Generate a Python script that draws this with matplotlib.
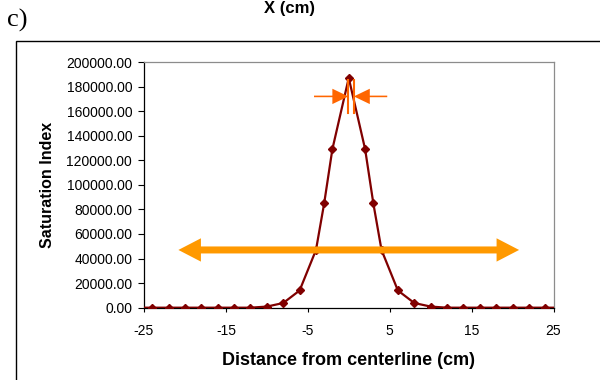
import matplotlib
matplotlib.use("Agg")
import matplotlib.pyplot as plt
from matplotlib.patches import Rectangle, FancyArrow, Polygon

plt.rcParams['font.family'] = ['Liberation Sans', 'DejaVu Sans']

# Data
distance = [-25, -24, -22, -20, -18, -16, -14, -12, -10, -8, -6, -4, -3, -2, 0,
            2, 3, 4, 6, 8, 10, 12, 14, 16, 18, 20, 22, 24, 25]
saturation = [0, 0, 0, 0, 0, 0, 0, 0, 900, 3800, 14000, 47000, 85000, 129000, 187000,
              129000, 85000, 47000, 14000, 3800, 900, 0, 0, 0, 0, 0, 0, 0, 0]
x_ticks = [-25, -15, -5, 5, 15, 25]
y_ticks = [0, 20000, 40000, 60000, 80000, 100000, 120000, 140000, 160000, 180000, 200000]

fig = plt.figure(figsize=(6.0, 3.8), dpi=100)
ax = fig.add_axes([0.24, 0.1903, 0.6825, 0.6465])

ax.plot(distance, saturation, color='#800000', lw=1.6, marker='D', markersize=3.6,
        markevery=slice(1, len(distance) - 1), zorder=3, clip_on=True)

ax.set_xlim(-25, 25)
ax.set_ylim(0, 200000)
ax.set_xticks(x_ticks)
ax.set_xticklabels([str(v) for v in x_ticks])
ax.set_yticks(y_ticks)
ax.set_yticklabels([f"{v:.2f}" for v in y_ticks])

ax.tick_params(axis='y', direction='out', length=4.5, width=0.8, pad=4, labelsize=10)
ax.tick_params(axis='x', direction='out', length=3, width=0.8, pad=9, labelsize=10)

for s in ['left', 'bottom']:
    ax.spines[s].set_color('black')
    ax.spines[s].set_linewidth(0.9)
for s in ['top', 'right']:
    ax.spines[s].set_color('#8c8c8c')
    ax.spines[s].set_linewidth(0.9)

ax.set_xlabel('Distance from centerline (cm)', fontsize=13, fontweight='bold', labelpad=10)
ax.set_ylabel('Saturation Index', fontsize=11.5, fontweight='bold', labelpad=8)

# Big double arrow as a single polygon
big_y = 47000
big_tip = 20.8
head_len = 2.75
shaft_half = 2850
head_half = 9500
verts = [
    (-big_tip, big_y),
    (-big_tip + head_len, big_y + head_half),
    (-big_tip + head_len, big_y + shaft_half),
    (big_tip - head_len, big_y + shaft_half),
    (big_tip - head_len, big_y + head_half),
    (big_tip, big_y),
    (big_tip - head_len, big_y - head_half),
    (big_tip - head_len, big_y - shaft_half),
    (-big_tip + head_len, big_y - shaft_half),
    (-big_tip + head_len, big_y - head_half),
]
ax.add_patch(Polygon(verts, closed=True, facecolor='#FF9900', edgecolor='none', zorder=4))

# Small inward arrows near the peak
small_y = 172000
ax.add_patch(FancyArrow(-4.24, small_y, 4.19, 0, width=1300, head_width=12500,
                        head_length=1.95, length_includes_head=True,
                        color='#FF6600', lw=0, zorder=6))
ax.add_patch(FancyArrow(4.7, small_y, -4.08, 0, width=1300, head_width=12500,
                        head_length=1.95, length_includes_head=True,
                        color='#FF6600', lw=0, zorder=6))
ax.plot([-0.05, -0.05], [158700, 185300], color='#FF6600', lw=1.5, zorder=6)
ax.plot([0.58, 0.58], [158700, 185300], color='#FF6600', lw=1.5, zorder=6)

# Outer frame
fig.patches.append(Rectangle((15.5 / 600, -0.05), 1.2, 1 - 40.7 / 380 + 0.05,
                             transform=fig.transFigure, fill=False,
                             edgecolor='black', lw=1.0))

fig.text(290 / 600, 1 - 1.5 / 380, 'X (cm)', ha='center', va='top',
         fontsize=12, fontweight='bold')
fig.text(7 / 600, 1 - 27 / 380, 'c)', ha='left', va='baseline',
         fontsize=19, family=['Liberation Serif', 'DejaVu Serif'])

fig.savefig('out.png', dpi=100)
